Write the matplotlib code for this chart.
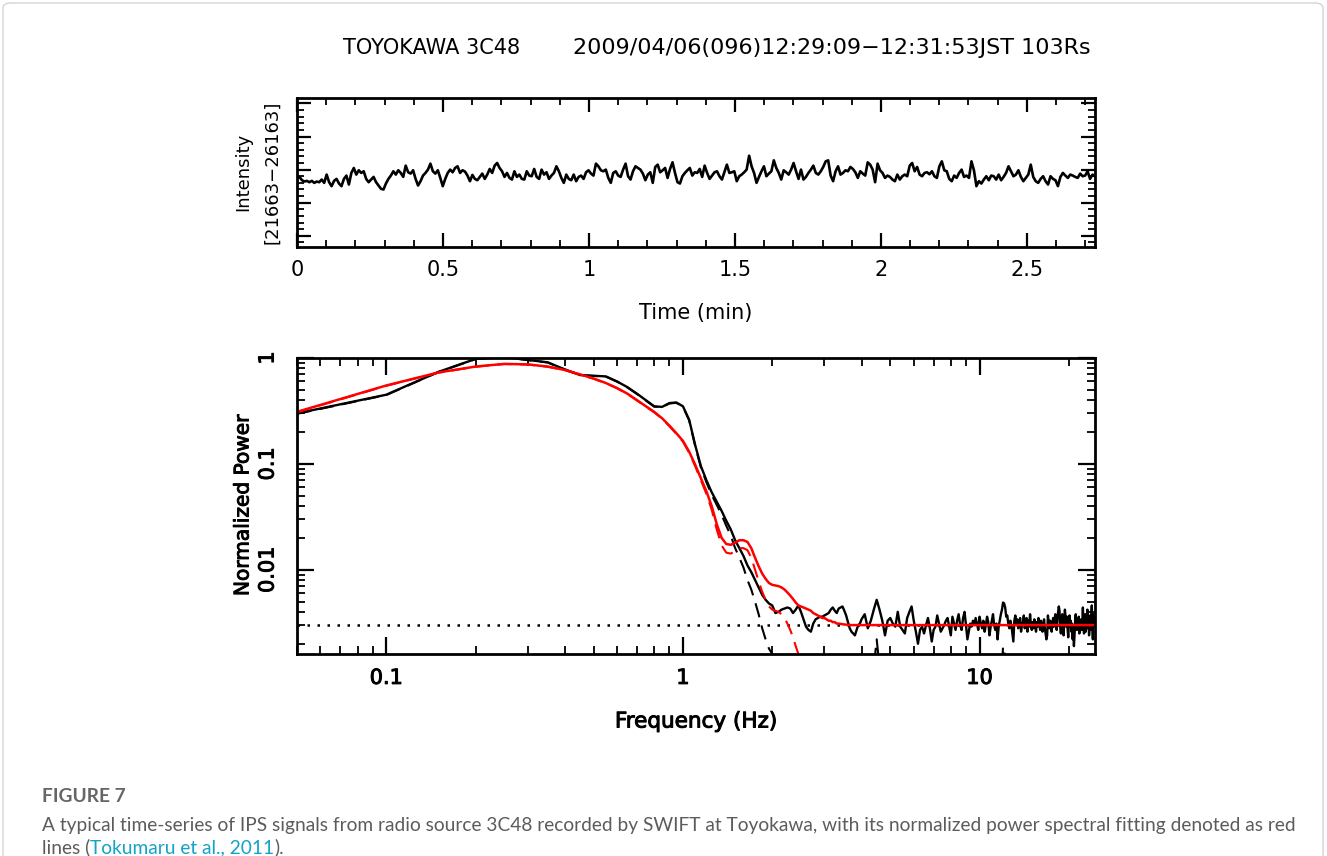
import numpy as np
import matplotlib
matplotlib.use('Agg')
import matplotlib.pyplot as plt
import matplotlib.patheffects as pe
from matplotlib.ticker import MultipleLocator, FuncFormatter, NullFormatter, LogLocator
from matplotlib.patches import FancyBboxPatch

# time series (intensity, 12:29:09 - 12:31:53 JST)
duration_min = 164 / 60
intensity = [
    23720, 23780, 23680, 23640, 23660, 23620, 23660, 23600, 23640, 23620,
    23700, 23600, 23850, 23620, 23500, 23660, 23720, 23580, 23500, 23720,
    23820, 23550, 23900, 24050, 23850, 23980, 23900, 23950, 23720, 23620,
    23700, 23780, 23620, 23520, 23420, 23400, 23580, 23720, 23820, 23950,
    23850, 23980, 23900, 23780, 24120, 23920, 23880, 23980, 23720, 23520,
    23650, 23820, 23900, 24000, 24180, 23950, 23880, 23980, 23750, 23500,
    23720, 23900, 24000, 23920, 24050, 24100, 23900, 23980, 23940, 23820,
    23650, 23840, 23720, 23680, 23780, 23880, 23720, 23850, 24020, 23900,
    24120, 24200,
    24050, 23950, 23780, 23900, 23750, 23700, 23950, 23780, 23850, 23720,
    23700, 23950, 23820, 23800, 24020, 23780, 23720, 24000, 23850, 23920,
    23720, 23820, 23900, 24100, 23950, 23750, 23600, 23850, 23720, 23680,
    23850, 23650, 23780, 23820, 23720, 23920, 23980, 23880, 23820, 24180,
    24100, 23980, 23950, 24000, 23750, 23600, 23900, 23950, 23820, 23780,
    24000, 24180, 23800, 23700, 23950, 24100, 24050, 24000, 23880, 23680,
    23850, 23920, 23600, 24080, 24150, 23920, 23980, 24050, 23750, 24020,
    24220, 23900, 23620, 23580, 23800, 23900, 23980, 24050, 23820, 23920,
    23900,
    24020, 23780, 24120, 23900, 23720, 23820, 23920, 23950, 23800, 23700,
    23920, 24150, 23900, 23920, 23950, 23650, 23800, 23850, 23920, 24000,
    24420, 24100, 23900, 23600, 23780, 23950, 24100, 23800, 23880, 23950,
    24280, 24050, 23900, 23700, 23980, 23920, 23850, 24000, 24200, 23950,
    23720, 24000, 23700, 23780, 23900, 24000, 24120, 23900, 23850, 23950,
    24080, 24250, 24280, 23820, 23650, 23950, 24100, 23850, 23900, 23980,
    23950, 24080, 24020, 23920, 23750, 23950, 23880, 23820, 24220, 24150,
    24000, 23620, 24180, 23980, 23900, 23750, 23820, 23780, 23700, 23650,
    23850,
    23700, 23800, 23850, 23800, 24120, 24200, 23950, 24080, 23850, 23800,
    23900, 23920, 23860, 23950, 23800, 23750, 24100, 24250, 23980, 23950,
    23720, 23650, 23820, 23750, 23900, 24000, 23780, 23820, 23750, 24250,
    23980, 23500, 23650, 23580, 23700, 23800, 23680, 23820, 23800, 23700,
    23850, 23680, 23780, 23900, 24100, 23950, 23800, 23850, 23980, 23780,
    23650, 23750, 23850, 24150, 23780, 23650, 23600, 23720, 23800, 23650,
    23550, 23800, 23720, 23680, 23500, 23780, 23900, 23820, 23750, 23850,
    23820, 23780, 23750, 23880, 23800, 23820, 23950, 23720, 23850, 23800,
]
int_min, int_max = 21663, 26163

# power spectrum, 0.05 Hz grid up to 4 Hz
spec_low = [
    0.30, 0.45, 0.74, 0.98, 1.02, 0.96, 0.91, 0.78, 0.69, 0.68,
    0.67, 0.60, 0.53, 0.46, 0.40, 0.35, 0.345, 0.375, 0.38, 0.35,
    0.26, 0.15, 0.095, 0.070, 0.054, 0.044, 0.036, 0.029, 0.024, 0.019,
    0.016, 0.0135, 0.011, 0.0095, 0.0080, 0.0068, 0.0058, 0.0052, 0.0048, 0.0046,
    0.0039, 0.0040, 0.0042, 0.0043, 0.0044, 0.0043, 0.0039, 0.0042, 0.0046, 0.0040,
    0.0034, 0.0029, 0.0027, 0.0026, 0.0031, 0.0034, 0.0035, 0.0036, 0.0036, 0.0037,
    0.0038, 0.0039, 0.0042, 0.0044, 0.0041, 0.0039, 0.0043, 0.0044, 0.0045, 0.0041,
    0.0037, 0.0032, 0.0028, 0.0026, 0.0025, 0.0024, 0.0027, 0.0030, 0.0031, 0.0034,
]
fit_low = [
    0.31, 0.55, 0.73, 0.83, 0.88, 0.87, 0.83, 0.77, 0.70, 0.64,
    0.58, 0.52, 0.46, 0.40, 0.35, 0.31, 0.27, 0.23, 0.195, 0.165,
    0.13, 0.098, 0.073, 0.055, 0.040, 0.027, 0.020, 0.0175, 0.0172, 0.018,
    0.019, 0.019, 0.0183, 0.016, 0.013, 0.0108, 0.0092, 0.0082, 0.0075, 0.0072,
    0.0071, 0.0070, 0.0068, 0.0065, 0.0061, 0.0057, 0.0053, 0.0049, 0.0046, 0.0045,
    0.0044, 0.0043, 0.0042, 0.0041, 0.0039, 0.0038, 0.0037, 0.0036, 0.0035, 0.0035,
    0.0034, 0.0033, 0.0033, 0.0032, 0.0032, 0.0031, 0.0031, 0.00308, 0.00306, 0.00304,
    0.00303, 0.00302, 0.00301, 0.0030, 0.0030, 0.0030, 0.0030, 0.0030, 0.0030, 0.0030,
]
# 0.1 Hz grid, 4.1 - 24.4 Hz, in units of 1e-4
spec_high = [
    38, 28, 33, 42, 52, 42, 33, 24, 33, 35,
    31, 29, 40, 29, 27, 25, 35, 40, 45, 33,
    26, 20, 27, 29, 25, 30, 35, 28, 21, 27,
    29, 37, 31, 26, 28, 30, 33, 35, 29, 24,
    36, 31, 27, 33, 38, 30, 27, 35, 40, 30,
    22, 26, 31, 29, 33, 30, 35, 31, 27, 36,
    31, 28, 33, 26, 30, 36, 32, 24, 29, 33,
    38, 30, 27, 31, 22, 29, 33, 38, 42, 49,
    48, 44, 36, 37, 31, 28, 33, 30, 25, 21,
    33, 37, 30, 34, 28, 31, 35, 26, 30, 32,
    37, 28, 31, 35, 26, 33, 29, 38, 30, 27,
    32, 28, 34, 30, 26, 32, 29, 35, 31, 27,
    33, 29, 26, 31, 34, 28, 25, 22, 24, 37,
    32, 28, 33, 30, 26, 31, 35, 29, 33, 38,
    30, 27, 34, 40, 45, 41, 29, 25, 33, 38,
    31, 24, 34, 42, 35, 29, 36, 28, 23, 31,
    37, 29, 33, 26, 31, 22, 30, 19, 24, 33,
    38, 30, 27, 34, 29, 36, 25, 32, 28, 34,
    27, 31, 44, 30, 25, 33, 38, 26, 31, 35,
    42, 28, 33, 24, 31, 37, 27, 34, 46, 29,
    22, 33, 38, 30,
]
noise_level = 0.003

freq_low = np.arange(1, 81) * 0.05
freq_high = np.arange(41, 245) * 0.1
freq = np.concatenate([freq_low, freq_high])
spec = np.concatenate([spec_low, np.array(spec_high) * 1e-4])
fit = np.concatenate([fit_low, np.full(len(freq_high), noise_level)])
t = np.linspace(0, duration_min, len(intensity))

W, H = 1327, 856
fig = plt.figure(figsize=(W / 100, H / 100), dpi=100)
fig.patch.set_facecolor('white')
fig.patches.append(FancyBboxPatch((3 / W, -0.02), 1320 / W, 1 - 3 / H + 0.02,
                                  boxstyle='round,pad=0,rounding_size=0.006',
                                  transform=fig.transFigure, fill=False,
                                  ec='#d4d4d4', lw=1))

fx = lambda px: px / W
fy = lambda py: 1 - py / H
heavy = [pe.withStroke(linewidth=0.7, foreground='black')]

# title
fig.text(fx(343), fy(48), 'TOYOKAWA 3C48', fontsize=15, va='center')
fig.text(fx(573), fy(48), '2009/04/06(096)12:29:09\u221212:31:53JST 103Rs',
         fontsize=16, va='center')

# --- top panel: time series
ax1 = fig.add_axes([fx(297), fy(247), fx(798), 149 / H])
ax1.plot(t, intensity, color='k', lw=1.9)
ax1.set_xlim(0, duration_min)
ax1.set_ylim(int_min, int_max)
ax1.xaxis.set_major_locator(MultipleLocator(0.5))
ax1.xaxis.set_minor_locator(MultipleLocator(0.1))
ax1.yaxis.set_major_locator(MultipleLocator(1000))
ax1.yaxis.set_minor_locator(MultipleLocator(200))
ax1.xaxis.set_major_formatter(FuncFormatter(lambda v, p: f'{v:g}'))
ax1.tick_params(which='both', direction='in', top=True, right=True, labelleft=False)
ax1.tick_params(which='major', length=10, width=1.6)
ax1.tick_params(which='minor', length=5, width=1.3)
ax1.tick_params(axis='x', pad=9, labelsize=15)
ax1.set_xlabel('Time (min)', fontsize=15, labelpad=17)
for s in ax1.spines.values():
    s.set_linewidth(2)
fig.text(fx(243), fy(172), 'Intensity', rotation=90, fontsize=13, ha='center', va='center')
fig.text(fx(272), fy(172), '[21663\u221226163]', rotation=90, fontsize=13,
         ha='center', va='center')

# --- bottom panel: normalized power spectrum
ax2 = fig.add_axes([fx(297), fy(654), fx(798), 296 / H])
ax2.axhline(noise_level, color='k', lw=1.8, ls=(0, (1, 3)))
ax2.plot(freq, spec, color='k', lw=1.7)
spec_sub = spec - noise_level
ax2.plot(freq, np.where(spec_sub > 0, spec_sub, np.nan), color='k', lw=1.5,
         ls=(0, (7, 4)))
ax2.plot(freq, fit, color='red', lw=1.8)
fit_sub = fit - noise_level
ax2.plot(freq, np.where(fit_sub > 1e-6, fit_sub, np.nan), color='red', lw=1.5,
         ls=(0, (7, 4)))
ax2.set_xscale('log')
ax2.set_yscale('log')
ax2.set_xlim(0.05, 24.5)
ax2.set_ylim(0.0016, 1)
for axis in (ax2.xaxis, ax2.yaxis):
    axis.set_major_locator(LogLocator(base=10))
    axis.set_minor_locator(LogLocator(base=10, subs=np.arange(2, 10)))
    axis.set_major_formatter(FuncFormatter(lambda v, p: f'{v:g}'))
    axis.set_minor_formatter(NullFormatter())
ax2.tick_params(which='both', direction='in', top=True, right=True)
ax2.tick_params(which='major', length=12, width=1.6)
ax2.tick_params(which='minor', length=6, width=1.3)
ax2.tick_params(axis='x', pad=10, labelsize=15)
ax2.tick_params(axis='y', pad=14, labelsize=15, labelrotation=90)
for lab in ax2.get_xticklabels() + ax2.get_yticklabels():
    lab.set_path_effects(heavy)
for lab in ax2.get_yticklabels():
    lab.set_va('center')
for s in ax2.spines.values():
    s.set_linewidth(2)
ax2.set_xlabel('Frequency (Hz)', fontsize=15.5, labelpad=17, path_effects=heavy)
fig.text(fx(243), fy(505), 'Normalized Power', rotation=90, fontsize=14.5,
         ha='center', va='center', path_effects=heavy)

# --- caption
cap_font = dict(family='Lato', fontsize=13.8, va='baseline')
fig.text(fx(42), fy(802), 'FIGURE 7', color='#666666', fontweight='bold', **cap_font)
fig.text(fx(42), fy(831),
         'A typical time-series of IPS signals from radio source 3C48 recorded by SWIFT '
         'at Toyokawa, with its normalized power spectral fitting denoted as red',
         color='#5c5c5c', **cap_font)
r = fig.canvas.get_renderer()
x0 = fx(42)
for part, col in [('lines (', '#5c5c5c'), ('Tokumaru et al., 2011', '#12a3c9'),
                  (').', '#5c5c5c')]:
    txt = fig.text(x0, fy(853), part, color=col, **cap_font)
    x0 = txt.get_window_extent(r).x1 / W

fig.savefig('out.png', dpi=100)
